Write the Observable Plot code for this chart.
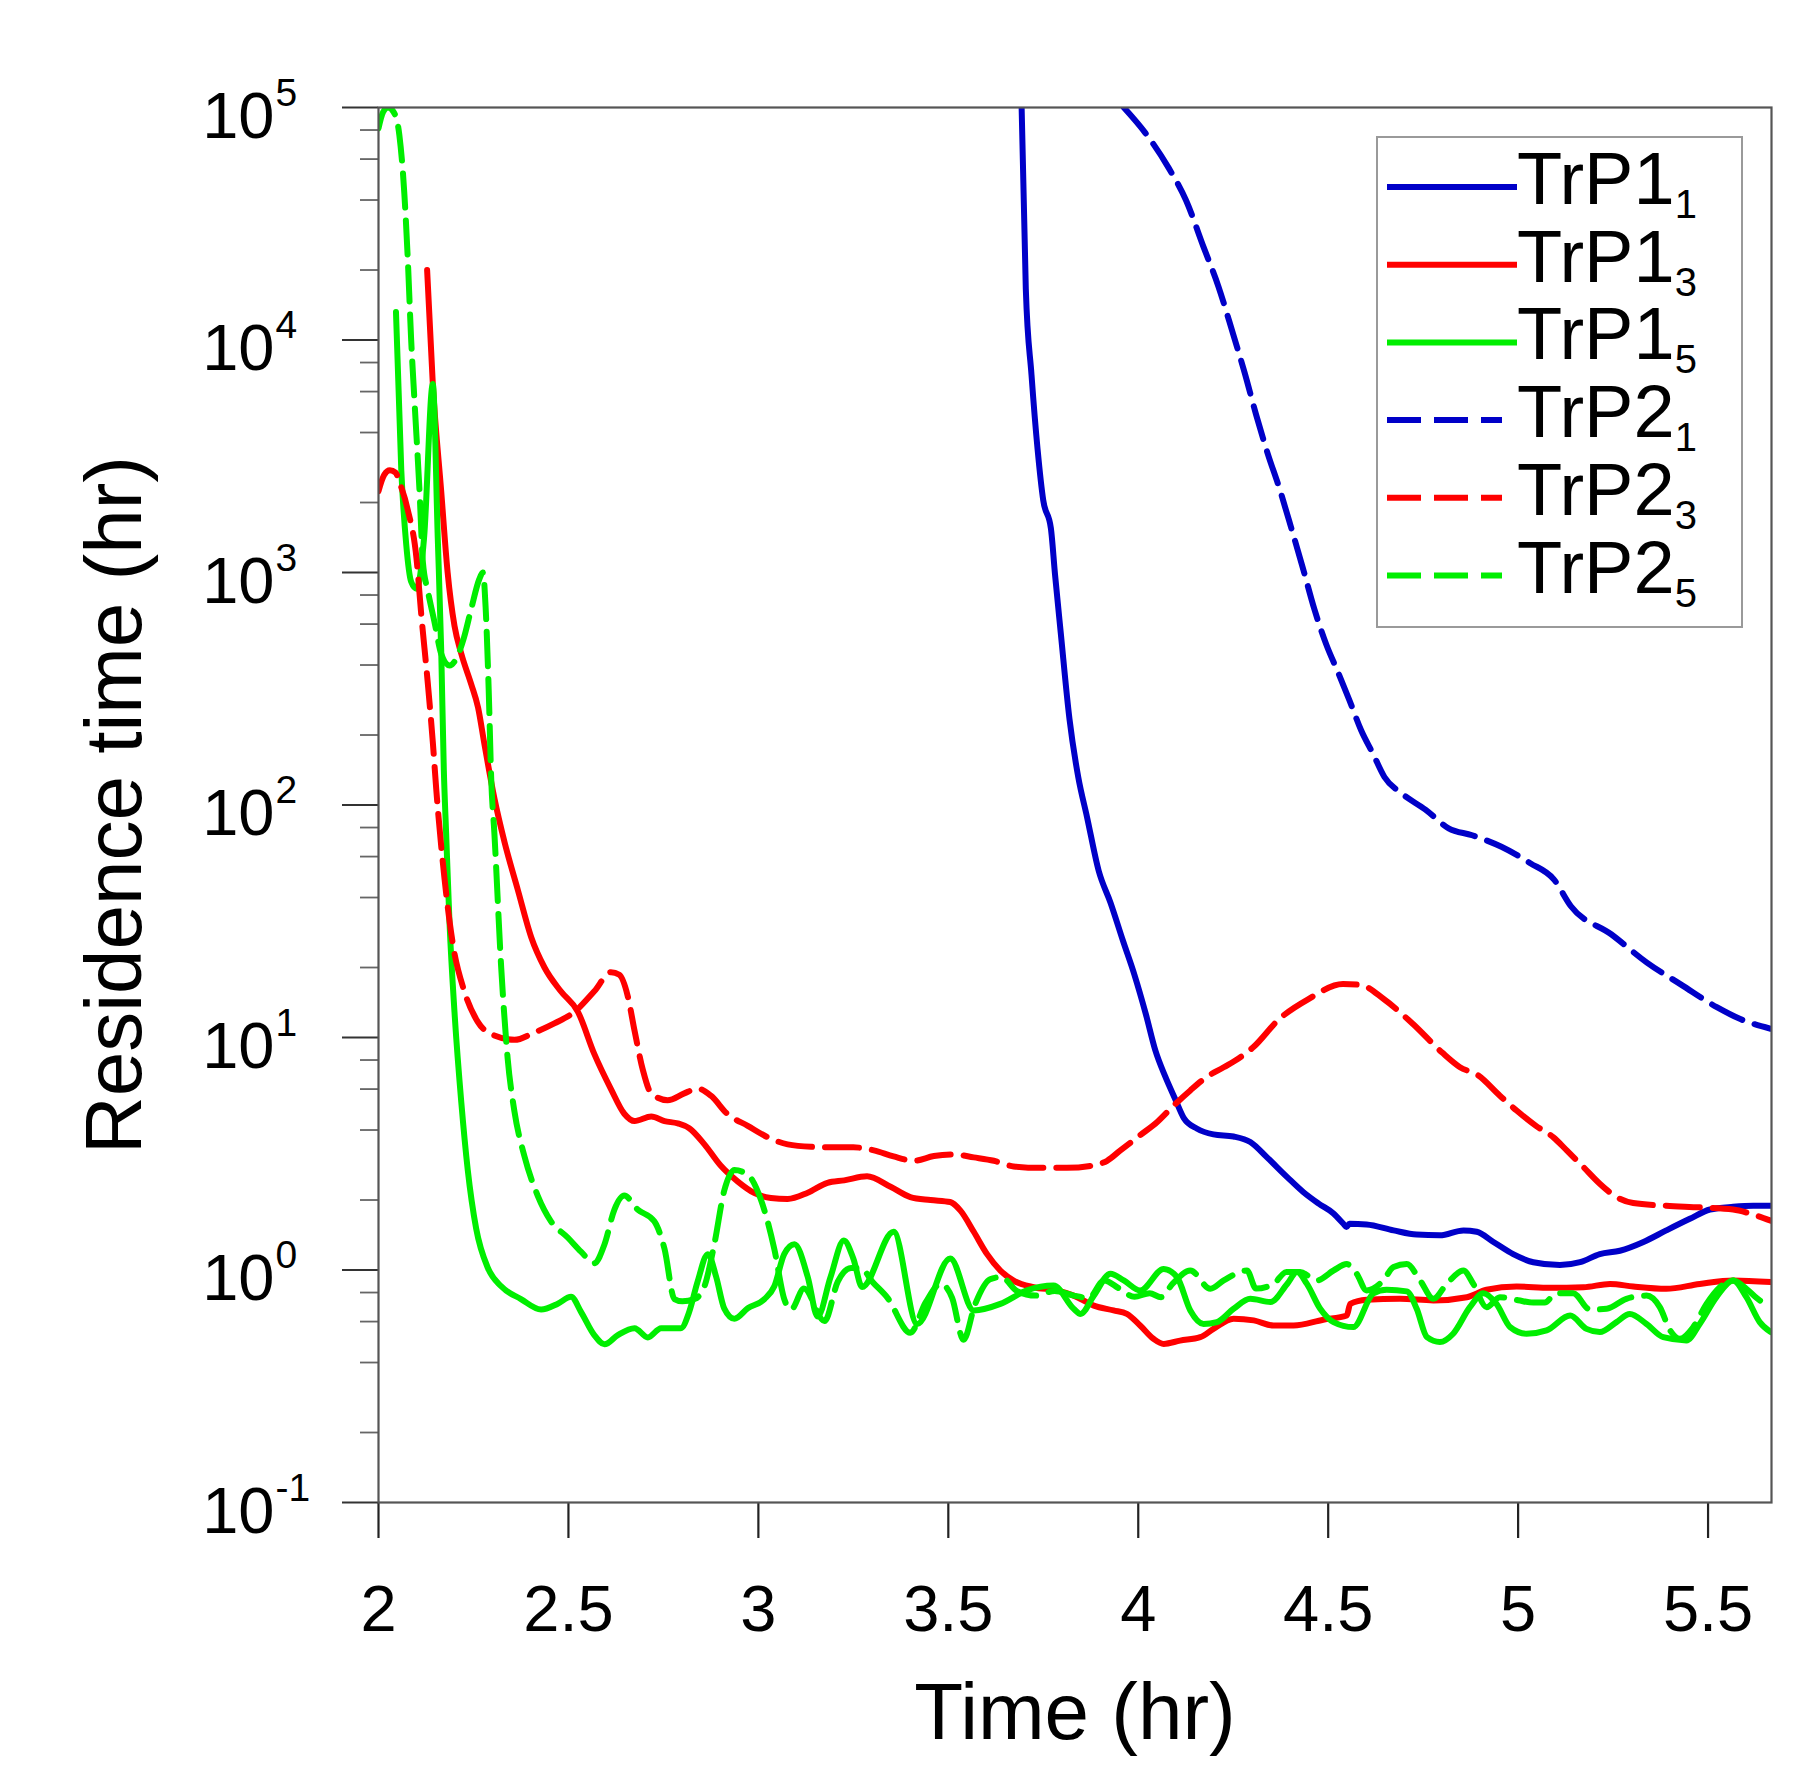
<!DOCTYPE html>
<html>
<head>
<meta charset="utf-8">
<script src="https://cdn.jsdelivr.net/npm/d3@7"></script>
<script src="https://cdn.jsdelivr.net/npm/@observablehq/plot@0.6"></script>
<style>
  html, body { margin: 0; padding: 0; background: #ffffff; }
  #chart svg { display: block; }
</style>
</head>
<body>
<div id="chart"></div>
<script>
// ---------- data (time in hr, residence time in hr) ----------
const TrP1_1 = [[3.693,100000],[3.704,16600],[3.719,7080],[3.735,3390],[3.75,2040],[3.77,1550],[3.781,977],[3.796,550],[3.819,234],[3.842,132],[3.865,89],[3.896,52],[3.927,38],[3.96,26],[3.99,18.6],[4.02,12.6],[4.045,8.8],[4.071,6.8],[4.098,5.4],[4.12,4.5],[4.155,4.05],[4.198,3.83],[4.251,3.75],[4.295,3.55],[4.339,3.05],[4.392,2.51],[4.435,2.16],[4.475,1.93],[4.514,1.75],[4.540,1.58],[4.548,1.53],[4.556,1.58],[4.601,1.57],[4.672,1.48],[4.733,1.42],[4.794,1.41],[4.856,1.48],[4.891,1.46],[4.935,1.32],[4.987,1.17],[5.04,1.08],[5.11,1.05],[5.163,1.08],[5.215,1.17],[5.268,1.21],[5.33,1.32],[5.39,1.48],[5.452,1.66],[5.505,1.82],[5.566,1.87],[5.619,1.89],[5.665,1.89]];

const TrP1_3 = [[2.128,20000],[2.143,6460],[2.165,2240],[2.182,1000],[2.2,590],[2.218,447],[2.244,331],[2.262,263],[2.279,182],[2.305,107],[2.332,69],[2.367,43],[2.402,27],[2.437,20],[2.48,15.8],[2.525,12.9],[2.568,8.5],[2.612,6.0],[2.647,4.7],[2.674,4.37],[2.718,4.57],[2.753,4.37],[2.788,4.27],[2.818,4.07],[2.858,3.47],[2.90,2.82],[2.946,2.4],[2.99,2.14],[3.033,2.04],[3.077,2.02],[3.13,2.15],[3.182,2.37],[3.226,2.43],[3.286,2.53],[3.348,2.28],[3.40,2.06],[3.453,2.0],[3.505,1.96],[3.532,1.80],[3.567,1.46],[3.602,1.17],[3.637,0.995],[3.672,0.90],[3.725,0.843],[3.786,0.817],[3.83,0.776],[3.883,0.703],[3.935,0.67],[3.97,0.647],[4.005,0.577],[4.04,0.506],[4.067,0.481],[4.11,0.497],[4.163,0.514],[4.198,0.558],[4.251,0.617],[4.304,0.607],[4.356,0.577],[4.409,0.577],[4.487,0.611],[4.549,0.637],[4.558,0.715],[4.601,0.745],[4.689,0.752],[4.777,0.74],[4.865,0.764],[4.917,0.822],[4.996,0.849],[5.084,0.838],[5.172,0.843],[5.242,0.871],[5.303,0.849],[5.39,0.83],[5.478,0.871],[5.566,0.902],[5.665,0.887]];

const TrP1_5 = [[2.046,13200],[2.06,2750],[2.073,1320],[2.086,912],[2.10,851],[2.12,1410],[2.143,6460],[2.156,1410],[2.165,468],[2.172,141],[2.178,76],[2.187,31],[2.2,12.9],[2.218,5.25],[2.235,2.69],[2.257,1.51],[2.288,1.02],[2.323,0.851],[2.375,0.75],[2.428,0.676],[2.472,0.716],[2.507,0.767],[2.533,0.661],[2.568,0.525],[2.595,0.479],[2.63,0.525],[2.674,0.562],[2.709,0.513],[2.744,0.562],[2.796,0.562],[2.818,0.661],[2.84,0.891],[2.867,1.17],[2.889,0.933],[2.91,0.684],[2.937,0.617],[2.972,0.684],[3.016,0.75],[3.042,0.851],[3.068,1.17],[3.095,1.29],[3.13,0.933],[3.156,0.631],[3.19,0.933],[3.225,1.34],[3.25,1.12],[3.273,0.845],[3.356,1.46],[3.418,0.586],[3.505,1.12],[3.567,0.67],[3.637,0.715],[3.707,0.817],[3.777,0.857],[3.83,0.681],[3.848,0.647],[3.883,0.776],[3.927,0.964],[3.962,0.902],[4.005,0.817],[4.067,1.01],[4.102,0.933],[4.137,0.67],[4.172,0.586],[4.207,0.597],[4.251,0.681],[4.295,0.752],[4.348,0.728],[4.392,0.871],[4.418,0.98],[4.444,0.871],[4.479,0.681],[4.514,0.597],[4.566,0.568],[4.619,0.794],[4.654,0.822],[4.707,0.809],[4.733,0.681],[4.76,0.514],[4.794,0.49],[4.829,0.532],[4.873,0.692],[4.908,0.794],[4.943,0.715],[4.979,0.568],[5.022,0.532],[5.075,0.55],[5.137,0.637],[5.18,0.558],[5.215,0.541],[5.259,0.597],[5.294,0.647],[5.338,0.586],[5.382,0.514],[5.443,0.498],[5.478,0.586],[5.522,0.764],[5.566,0.902],[5.601,0.764],[5.636,0.597],[5.665,0.541]];

const TrP2_1 = [[3.962,100000],[4.019,77600],[4.08,55000],[4.126,39800],[4.172,25100],[4.211,17000],[4.249,10700],[4.28,7240],[4.31,4790],[4.341,3240],[4.372,2290],[4.403,1550],[4.433,1050],[4.464,692],[4.495,490],[4.526,372],[4.556,282],[4.587,209],[4.618,166],[4.648,132],[4.694,112],[4.756,95.5],[4.817,79.4],[4.879,74.1],[4.956,66.1],[5.032,56.2],[5.094,47.9],[5.139,36.7],[5.245,27.8],[5.339,21],[5.431,16.8],[5.523,13.5],[5.585,12.0],[5.665,10.9]];

const TrP2_3 = [[2.0,2240],[2.015,2630],[2.03,2750],[2.045,2690],[2.055,2450],[2.077,1860],[2.1,1150],[2.112,676],[2.13,331],[2.143,186],[2.152,117],[2.174,47.9],[2.196,25.1],[2.226,15.8],[2.261,11.7],[2.305,10.2],[2.358,9.77],[2.41,10.5],[2.463,11.5],[2.516,12.9],[2.568,15.8],[2.612,19.1],[2.634,18.6],[2.656,15.1],[2.674,10.7],[2.696,7.24],[2.718,5.75],[2.761,5.37],[2.805,5.75],[2.84,6.03],[2.875,5.62],[2.919,4.68],[2.972,4.17],[3.025,3.72],[3.077,3.47],[3.139,3.39],[3.216,3.37],[3.25,3.37],[3.304,3.27],[3.356,3.08],[3.409,2.95],[3.462,3.09],[3.514,3.14],[3.567,3.05],[3.62,2.95],[3.672,2.79],[3.742,2.75],[3.812,2.75],[3.883,2.82],[3.918,2.95],[3.953,3.27],[4.005,3.8],[4.05,4.33],[4.093,5.09],[4.137,5.92],[4.18,6.76],[4.225,7.45],[4.264,8.13],[4.304,9.12],[4.371,12.0],[4.447,14.6],[4.539,17.0],[4.587,16.8],[4.647,14.6],[4.724,11.4],[4.80,8.61],[4.847,7.45],[4.894,6.89],[4.952,5.62],[4.996,4.85],[5.047,4.17],[5.093,3.72],[5.128,3.27],[5.172,2.77],[5.215,2.35],[5.259,2.06],[5.303,1.94],[5.39,1.89],[5.478,1.86],[5.566,1.82],[5.61,1.75],[5.665,1.63]];

const TrP2_5 = [[2.0,81300],[2.012,95500],[2.025,100000],[2.04,95500],[2.055,75900],[2.068,42700],[2.077,22400],[2.086,10000],[2.095,5370],[2.108,2240],[2.117,1100],[2.13,832],[2.147,617],[2.165,447],[2.187,398],[2.205,427],[2.225,525],[2.245,708],[2.265,933],[2.275,1000],[2.282,708],[2.29,316],[2.297,126],[2.305,75.9],[2.323,20],[2.34,8.13],[2.358,4.79],[2.384,3.09],[2.419,2.09],[2.454,1.62],[2.498,1.38],[2.533,1.2],[2.568,1.07],[2.595,1.29],[2.621,1.82],[2.647,2.09],[2.682,1.82],[2.726,1.62],[2.753,1.23],[2.779,0.75],[2.80,0.733],[2.832,0.75],[2.858,0.851],[2.884,1.29],[2.91,2.19],[2.937,2.69],[2.972,2.57],[3.007,2.0],[3.042,1.23],[3.068,0.75],[3.086,0.676],[3.12,0.832],[3.174,0.603],[3.209,0.891],[3.244,1.02],[3.27,1.02],[3.30,0.891],[3.34,0.759],[3.40,0.537],[3.44,0.724],[3.48,0.871],[3.51,0.759],[3.54,0.501],[3.57,0.708],[3.61,0.912],[3.64,0.933],[3.68,0.813],[3.73,0.776],[3.78,0.813],[3.83,0.776],[3.87,0.759],[3.91,0.902],[3.95,0.832],[3.99,0.767],[4.03,0.794],[4.06,0.764],[4.09,0.871],[4.137,0.995],[4.19,0.83],[4.225,0.902],[4.286,0.995],[4.31,0.832],[4.356,0.871],[4.39,0.98],[4.426,0.98],[4.47,0.902],[4.514,0.995],[4.549,1.06],[4.575,0.964],[4.601,0.817],[4.645,0.902],[4.672,1.03],[4.707,1.06],[4.742,0.902],[4.777,0.752],[4.812,0.871],[4.856,0.995],[4.882,0.871],[4.917,0.692],[4.952,0.764],[5.0,0.741],[5.04,0.724],[5.07,0.724],[5.1,0.794],[5.145,0.794],[5.189,0.676],[5.233,0.681],[5.285,0.752],[5.338,0.776],[5.373,0.692],[5.4,0.55],[5.426,0.506],[5.461,0.568],[5.496,0.715],[5.531,0.843],[5.566,0.902],[5.601,0.83],[5.636,0.74],[5.665,0.715]];

const seriesData   = [TrP1_1, TrP1_3, TrP1_5, TrP2_1, TrP2_3, TrP2_5];
const seriesBase   = ["TrP1", "TrP1", "TrP1", "TrP2", "TrP2", "TrP2"];
const seriesSub    = ["1", "3", "5", "1", "3", "5"];
const seriesColor  = ["#0000c8", "#ff0000", "#00ee00", "#0000c8", "#ff0000", "#00ee00"];
const seriesDashed = [false, false, false, true, true, true];

const xTicks = [2, 2.5, 3, 3.5, 4, 4.5, 5, 5.5];
const yMajor = [0.1, 1, 10, 100, 1000, 10000, 100000];
const yExponent = ["-1", "0", "1", "2", "3", "4", "5"];
const yMinor = [0.2,0.4,0.6,0.8, 2,4,6,8, 20,40,60,80, 200,400,600,800, 2000,4000,6000,8000, 20000,40000,60000,80000];

const xDomain = [2, 5.667];
const yDomain = [0.1, 100000];

// ---------- table built from the arrays ----------
const rows = [];
seriesData.forEach((arr, i) => {
  const key = seriesBase[i] + "_" + seriesSub[i];
  arr.forEach(([t, v]) => rows.push({series: key, time: t, value: v, idx: i}));
});
const keys = seriesData.map((_, i) => seriesBase[i] + "_" + seriesSub[i]);

const FONT = "'Liberation Sans', Arial, Helvetica, sans-serif";
const DASH = "34,13";
const LW = 6;

const lineMarks = seriesData.map((arr, i) =>
  Plot.line(rows.filter(r => r.idx === i), {
    x: "time", y: "value",
    stroke: seriesColor[i],
    strokeWidth: LW,
    strokeDasharray: seriesDashed[i] ? DASH : null,
    curve: "monotone-x",
    clip: true
  })
);

const chart = Plot.plot({
  width: 1815,
  height: 1784,
  marginLeft: 378,
  marginRight: 44,
  marginTop: 107,
  marginBottom: 282,
  style: {fontFamily: FONT, background: "#ffffff", color: "#000"},
  x: {domain: xDomain},
  y: {type: "log", domain: yDomain},
  marks: [
    Plot.axisY(yMinor, {anchor: "left", tickSize: 18, tickFormat: () => "", stroke: "#666", strokeWidth: 1.8, label: null}),
    Plot.axisY(yMajor, {anchor: "left", tickSize: 36, tickFormat: () => "", stroke: "#333", strokeWidth: 2.2, label: null}),
    Plot.text(yMajor, {y: d => d, text: () => "10", frameAnchor: "left", textAnchor: "end", lineAnchor: "bottom", dx: -104, dy: 30, fontSize: 65, fill: "#000"}),
    Plot.text(yMajor, {y: d => d, text: (d, i) => yExponent[i], frameAnchor: "left", textAnchor: "start", lineAnchor: "bottom", dx: -103, dy: -2, fontSize: 39, fill: "#000"}),
    Plot.axisX(xTicks, {anchor: "bottom", tickSize: 36, tickPadding: 46, fontSize: 65, tickFormat: d => String(d), stroke: "#222", strokeWidth: 2.2, fill: "#000", label: null}),
    ...lineMarks,
    Plot.frame({stroke: "#555", strokeWidth: 2.2}),
    Plot.text(["Time (hr)"], {frameAnchor: "bottom", textAnchor: "middle", lineAnchor: "bottom", dy: 236, fontSize: 80, fill: "#000"}),
    Plot.text(["Residence time (hr)"], {frameAnchor: "left", textAnchor: "middle", lineAnchor: "bottom", rotate: -90, dx: -238, fontSize: 80, fill: "#000"})
  ]
});

// ---------- legend (inside the plot area, top right) ----------
const svg = d3.select(chart);
const lg = svg.append("g").attr("font-family", FONT).attr("text-anchor", "start");
lg.append("rect")
  .attr("x", 1377).attr("y", 137).attr("width", 365).attr("height", 490)
  .attr("fill", "#ffffff").attr("stroke", "#9a9a9a").attr("stroke-width", 2);
keys.forEach((k, i) => {
  const ly = 187 + i * 77.7;
  lg.append("line")
    .attr("x1", 1387).attr("x2", seriesDashed[i] ? 1502 : 1517)
    .attr("y1", ly).attr("y2", ly)
    .attr("stroke", seriesColor[i]).attr("stroke-width", LW)
    .attr("stroke-dasharray", seriesDashed[i] ? DASH : null);
  const t = lg.append("text").attr("x", 1517).attr("y", ly + 17)
    .attr("font-size", 74).attr("fill", "#000").attr("text-anchor", "start");
  t.append("tspan").text(seriesBase[i]);
  t.append("tspan").attr("font-size", 40).attr("dy", 14).text(seriesSub[i]);
});

document.getElementById("chart").appendChild(chart);
</script>
</body>
</html>
